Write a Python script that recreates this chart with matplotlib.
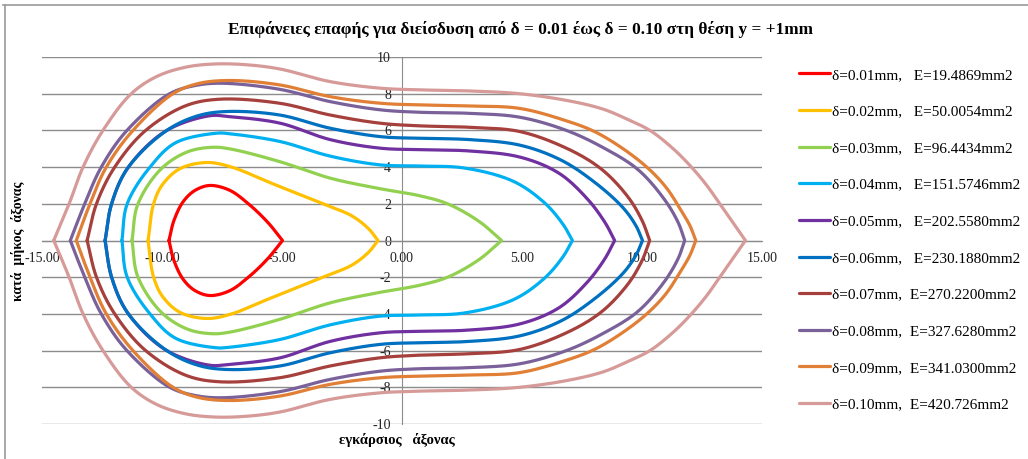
import numpy as np
import matplotlib
matplotlib.use("Agg")
import matplotlib.pyplot as plt
from matplotlib.lines import Line2D

plt.rcParams['font.family'] = ['Liberation Serif', 'DejaVu Serif']

# Contact-surface outlines (upper half, left apex -> right apex); the lower half is the mirror image.
x_d01 = [-9.71, -9.50, -9.10, -8.60, -8.00, -7.20, -6.40, -5.60, -4.98]
y_d01 = [0.00, 1.10, 2.15, 2.75, 3.00, 2.75, 2.00, 1.00, 0.00]

x_d02 = [-10.58, -10.35, -9.95, -9.20, -8.10, -7.10, -5.40, -3.30, -2.10, -1.40, -1.00]
y_d02 = [0.00, 2.00, 3.10, 3.95, 4.25, 4.00, 3.10, 2.00, 1.35, 0.65, 0.00]

x_d03 = [-11.25, -11.00, -10.00, -8.90, -7.90, -7.20, -5.10, -3.00, -0.90, 0.70, 1.90, 3.20, 4.15]
y_d03 = [0.00, 2.00, 3.95, 4.85, 5.08, 5.00, 4.30, 3.40, 2.82, 2.45, 2.00, 1.05, 0.00]

x_d04 = [-11.67, -11.45, -10.50, -9.40, -7.70, -7.20, -5.10, -3.00, -0.90, 0.70, 2.60, 4.60, 5.90, 6.70, 7.10]
y_d04 = [0.00, 2.00, 4.00, 5.35, 5.85, 5.82, 5.40, 4.60, 4.12, 4.06, 3.95, 3.25, 2.10, 0.90, 0.00]

x_d05 = [-12.37, -12.10, -11.40, -9.80, -8.00, -7.20, -5.10, -3.00, -0.90, 0.70, 2.80, 4.90, 6.50, 7.70, 8.45, 8.86]
y_d05 = [0.00, 2.00, 4.00, 6.00, 6.80, 6.75, 6.40, 5.50, 5.03, 4.95, 4.88, 4.55, 3.70, 2.30, 1.00, 0.00]

x_d06 = [-12.37, -12.10, -11.40, -9.80, -8.50, -7.30, -5.10, -3.00, -0.90, 0.70, 2.80, 4.90, 6.60, 8.00, 9.20, 9.75, 10.02]
y_d06 = [0.00, 2.00, 4.00, 6.00, 6.80, 7.03, 6.84, 6.12, 5.66, 5.57, 5.50, 5.20, 4.40, 3.20, 1.80, 0.80, 0.00]

x_d07 = [-13.12, -12.73, -11.97, -10.68, -9.00, -7.60, -5.10, -3.00, -0.90, 0.70, 2.80, 4.90, 6.90, 8.30, 9.40, 10.00, 10.32]
y_d07 = [0.00, 2.00, 4.00, 6.00, 7.35, 7.70, 7.48, 6.84, 6.39, 6.25, 6.17, 5.94, 5.00, 3.90, 2.40, 1.10, 0.00]

x_d08 = [-13.82, -13.22, -12.53, -11.46, -9.68, -8.60, -7.50, -5.10, -3.00, -0.90, 0.70, 2.80, 4.90, 6.85, 8.40, 9.80, 10.90, 11.50, 11.78]
y_d08 = [0.00, 2.00, 4.00, 6.00, 8.00, 8.45, 8.57, 8.24, 7.57, 7.12, 6.99, 6.93, 6.72, 6.00, 5.05, 3.90, 2.30, 1.00, 0.00]

x_d09 = [-13.57, -13.00, -12.32, -11.21, -9.54, -8.50, -7.20, -5.10, -3.00, -0.90, 0.70, 2.80, 4.90, 6.90, 8.00, 9.10, 10.20, 11.00, 11.60, 12.00, 12.24]
y_d09 = [0.00, 2.00, 4.00, 6.00, 8.00, 8.55, 8.72, 8.48, 7.84, 7.48, 7.39, 7.33, 7.20, 6.50, 5.95, 5.10, 4.00, 2.90, 1.70, 0.80, 0.00]

x_d10 = [-14.51, -13.87, -13.29, -12.46, -11.28, -10.20, -9.00, -7.80, -6.50, -5.10, -3.00, -0.90, 0.70, 2.80, 4.90, 7.00, 8.40, 9.40, 10.33, 11.30, 12.06, 12.70, 13.24, 13.80, 14.31]
y_d10 = [0.00, 2.00, 4.00, 6.00, 8.00, 8.95, 9.45, 9.62, 9.58, 9.35, 8.66, 8.30, 8.21, 8.15, 8.00, 7.60, 7.15, 6.60, 6.00, 5.00, 4.00, 3.00, 2.00, 0.95, 0.00]

depths = ["0.01", "0.02", "0.03", "0.04", "0.05", "0.06", "0.07", "0.08", "0.09", "0.10"]
areas = ["19.4869", "50.0054", "96.4434", "151.5746", "202.5580", "230.1880",
         "270.2200", "327.6280", "341.0300", "420.726"]
gaps = ["   ", "   ", "   ", "   ", "   ", "   ", "  ", "  ", "  ", "  "]
colors = ["#FF0000", "#FFC000", "#92D050", "#00B0F0", "#7030A0", "#0070C0",
          "#A5403D", "#7A6199", "#E07F35", "#D69A99"]

xs = [x_d01, x_d02, x_d03, x_d04, x_d05, x_d06, x_d07, x_d08, x_d09, x_d10]
ys = [y_d01, y_d02, y_d03, y_d04, y_d05, y_d06, y_d07, y_d08, y_d09, y_d10]


def catmull_rom(px, py, n=24):
    """Centripetal Catmull-Rom curve through the given points."""
    P = np.column_stack([px, py]).astype(float)
    P = np.vstack([2 * P[0] - P[1], P, 2 * P[-1] - P[-2]])
    out = []
    for i in range(1, len(P) - 2):
        p0, p1, p2, p3 = P[i - 1], P[i], P[i + 1], P[i + 2]
        t0 = 0.0
        t1 = t0 + np.linalg.norm(p1 - p0) ** 0.5
        t2 = t1 + np.linalg.norm(p2 - p1) ** 0.5
        t3 = t2 + np.linalg.norm(p3 - p2) ** 0.5
        t = np.linspace(t1, t2, n)[:, None]
        a1 = (t1 - t) / (t1 - t0) * p0 + (t - t0) / (t1 - t0) * p1
        a2 = (t2 - t) / (t2 - t1) * p1 + (t - t1) / (t2 - t1) * p2
        a3 = (t3 - t) / (t3 - t2) * p2 + (t - t2) / (t3 - t2) * p3
        b1 = (t2 - t) / (t2 - t0) * a1 + (t - t0) / (t2 - t0) * a2
        b2 = (t3 - t) / (t3 - t1) * a2 + (t - t1) / (t3 - t1) * a3
        c = (t2 - t) / (t2 - t1) * b1 + (t - t1) / (t2 - t1) * b2
        out.append(c if i == 1 else c[1:])
    c = np.vstack(out)
    return c[:, 0], c[:, 1]


fig = plt.figure(figsize=(10.28, 4.59), dpi=100)
ax = fig.add_axes([42 / 1028, 1 - 424 / 459, 720 / 1028, 367 / 459])

grid_c = "#8C8C8C"
for gy in range(-10, 11, 2):
    ax.axhline(gy, color=grid_c, lw=1.0, zorder=0)

handles = []
for i in range(len(xs)):
    ux, uy = catmull_rom(xs[i], ys[i])
    lx, ly = catmull_rom(xs[i][::-1], [-v for v in ys[i][::-1]])
    cx = np.concatenate([ux, lx[1:]])
    cy = np.concatenate([uy, ly[1:]])
    line, = ax.plot(cx, cy, color=colors[i], lw=2.3, solid_joinstyle="round",
                    solid_capstyle="round", zorder=3,
                    label=f"δ={depths[i]}mm,{gaps[i]}E={areas[i]}mm2")
    handles.append(line)

ax.set_xlim(-15, 15)
ax.set_ylim(-10, 10)
ax.set_xticks([-15, -10, -5, 0, 5, 10, 15])
ax.set_xticklabels(["-15.00", "-10.00", "-5.00", "0.00", "5.00", "10.00", "15.00"])
ax.set_yticks(range(-10, 11, 2))
ax.set_yticklabels([str(v) for v in range(-10, 11, 2)])
for s in ["top", "right"]:
    ax.spines[s].set_visible(False)
ax.spines["left"].set_position(("data", 0))
ax.spines["bottom"].set_position(("data", 0))
ax.spines["left"].set_color(grid_c)
ax.spines["bottom"].set_color(grid_c)
ax.spines["left"].set_zorder(1)
ax.tick_params(axis="both", length=0, labelsize=10, colors="#222222")
ax.tick_params(axis="x", pad=8)
ax.tick_params(axis="y", pad=8)
ax.patch.set_alpha(0)

fig.text(18 / 1028, 1 - 241 / 459, "κατά  μήκος  άξονας", rotation=90, ha="center",
         va="center", fontsize=10, fontweight="bold")
fig.text(397 / 1028, 1 - 440 / 459, "εγκάρσιος   άξονας", ha="center", va="center",
         fontsize=10.5, fontweight="bold")
fig.text(520 / 1028, 1 - 30 / 459,
         "Επιφάνειες επαφής για διείσδυση από δ = 0.01 έως δ = 0.10 στη θέση y = +1mm",
         ha="center", va="center", fontsize=12.4, fontweight="bold")

fig.legend(handles=handles, loc="upper left", bbox_to_anchor=(793 / 1028, 1 - 62 / 459),
           frameon=False, fontsize=11, handlelength=2.0, handletextpad=0.15,
           labelspacing=1.5, borderaxespad=0)

fig.add_artist(Line2D([5 / 1028, 5 / 1028], [0, 1 - 5 / 459], transform=fig.transFigure,
                      color="#9A9A9A", lw=1.2))
fig.add_artist(Line2D([3 / 1028, 1], [1 - 5 / 459, 1 - 5 / 459], transform=fig.transFigure,
                      color="#9A9A9A", lw=1.2))

fig.savefig("out.png", dpi=100)
